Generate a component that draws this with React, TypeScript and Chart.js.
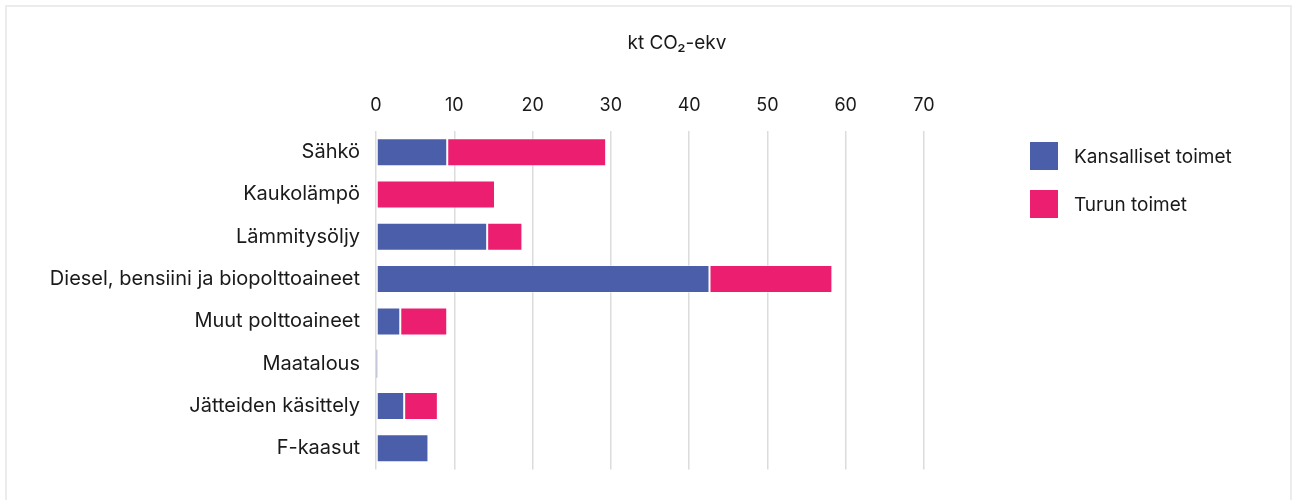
import React, { useEffect, useRef } from "react";
import { Chart, registerables } from "chart.js";

Chart.register(...registerables);

const categories = [
  "Sähkö",
  "Kaukolämpö",
  "Lämmitysöljy",
  "Diesel, bensiini ja biopolttoaineet",
  "Muut polttoaineet",
  "Maatalous",
  "Jätteiden käsittely",
  "F-kaasut",
];
const seriesNames = ["Kansalliset toimet", "Turun toimet"];
const kansalliset = [9.1, 0, 14.2, 42.6, 3.1, 0.15, 3.6, 6.7];
const turun = [20.3, 15.2, 4.5, 15.7, 6.0, 0, 4.3, 0];
const seriesColors = ["#4a5ea9", "#eb1e6f"];
const xMin = 0;
const xMax = 70;
const xStep = 10;
const unitTitle = "kt CO₂-ekv";

const FONT = "Inter, 'Liberation Sans', Arial, sans-serif";

export default function App() {
  const canvasRef = useRef<HTMLCanvasElement | null>(null);

  useEffect(() => {
    if (!canvasRef.current) return;
    const chart = new Chart(canvasRef.current, {
      type: "bar",
      data: {
        labels: categories,
        datasets: [kansalliset, turun].map((d, i) => ({
          label: seriesNames[i],
          data: d,
          backgroundColor: seriesColors[i],
          borderColor: "rgba(255,255,255,0.4)",
          borderWidth: (ctx: any) => (Math.abs(ctx.raw ?? 0) < 1 ? 0 : 1),
          borderSkipped: false,
          categoryPercentage: 1,
          barPercentage: 0.662,
        })),
      },
      options: {
        indexAxis: "y",
        animation: false,
        responsive: false,
        devicePixelRatio: 1,
        layout: { padding: { left: 0, right: 368, top: 0, bottom: 30.5 } },
        plugins: {
          legend: { display: false },
          title: { display: false },
          tooltip: { enabled: false },
        },
        scales: {
          x: {
            position: "top",
            stacked: true,
            min: xMin,
            max: xMax,
            ticks: {
              stepSize: xStep,
              color: "#1a1a1a",
              font: { family: FONT, size: 18 },
              padding: 15,
            },
            grid: {
              color: "#dcdcdc",
              lineWidth: 1.5,
              drawTicks: false,
            },
            border: { display: false },
            afterFit: (scale: any) => {
              scale.height = 131;
            },
          },
          y: {
            stacked: true,
            ticks: {
              color: "#1a1a1a",
              font: { family: FONT, size: 20 },
              padding: 16,
            },
            grid: { display: false, drawTicks: false },
            border: { display: false },
            afterFit: (scale: any) => {
              scale.width = 376;
            },
          },
        },
      },
    });
    return () => chart.destroy();
  }, []);

  return (
    <div
      style={{
        position: "absolute",
        left: 0,
        top: 0,
        width: 1292,
        height: 500,
        overflow: "hidden",
        background: "#fff",
        fontFamily: FONT,
      }}
    >
      <div
        style={{
          position: "absolute",
          left: 5,
          top: 5,
          width: 1287,
          height: 520,
          border: "2px solid #ececec",
          boxSizing: "border-box",
        }}
      />
      <canvas
        ref={canvasRef}
        width={1292}
        height={500}
        style={{ position: "absolute", left: 0, top: 0, width: 1292, height: 500 }}
      />
      <div
        style={{
          position: "absolute",
          left: 557,
          width: 240,
          top: 31,
          textAlign: "center",
          fontSize: 19,
          color: "#1a1a1a",
          lineHeight: "24px",
        }}
      >
        {unitTitle}
      </div>
      {seriesNames.map((name, i) => (
        <div
          key={name}
          style={{
            position: "absolute",
            left: 1030,
            top: 142 + i * 48,
            height: 28,
            display: "flex",
            alignItems: "center",
          }}
        >
          <span
            style={{
              display: "inline-block",
              width: 28,
              height: 28,
              background: seriesColors[i],
            }}
          />
          <span style={{ marginLeft: 16, fontSize: 19, color: "#1a1a1a" }}>{name}</span>
        </div>
      ))}
    </div>
  );
}
